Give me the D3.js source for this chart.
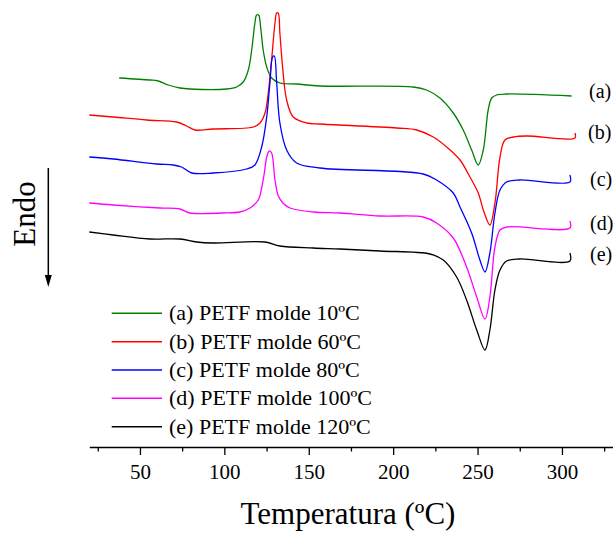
<!DOCTYPE html>
<html><head><meta charset="utf-8">
<script src="https://cdn.jsdelivr.net/npm/d3@7"></script>
<style>
body{margin:0;background:#fff}
svg{display:block}
text{font-family:"Liberation Serif","Times New Roman",serif;fill:#000}
</style></head><body>
<script>
// ---- data ----
const tempA=[37.7,55.9,60.8,66.8,73.7,79.6,101.4,107.3,111.2,114.2,116.2,118.1,119.1,120.3,121.5,123.0,125.1,128.0,132.9,142.8,156.6,211.9,219.8,227.7,235.6,241.5,246.5,250.4,253.4,256.3,258.4,261.3,267.2,305.7];
const flowA=[36.9,36.7,36.6,36.2,35.9,35.8,35.8,36.0,36.5,37.7,39.7,42.4,43.2,43.2,42.0,39.7,38.0,36.9,36.4,36.3,36.1,36.0,35.7,34.9,33.4,31.7,29.7,28.2,29.7,33.7,34.9,35.2,35.3,35.1];
const tempB=[20.0,34.2,54.0,71.7,77.7,82.6,93.4,117.1,121.1,124.1,126.0,128.0,130.0,131.0,131.9,132.9,134.5,136.9,140.8,148.8,156.6,202.1,213.9,223.8,231.7,239.6,245.5,250.4,253.8,257.3,260.3,263.3,266.2,271.2,279.1,307.7,307.7];
const flowB=[33.2,33.0,32.7,32.5,32.1,31.7,31.8,32.0,32.4,33.4,35.4,38.7,42.4,43.4,43.4,41.4,38.0,34.7,33.0,32.4,32.3,31.9,31.7,31.0,30.0,28.7,27.0,25.4,23.5,22.2,24.4,29.0,30.7,31.0,31.1,30.9,31.4];
const tempC=[20.0,34.2,59.9,69.7,74.7,80.6,93.4,113.2,118.1,122.1,125.1,127.0,128.6,129.6,131.0,132.9,136.9,142.8,156.6,217.8,225.7,235.6,239.6,246.5,251.4,254.4,257.3,260.3,263.3,267.2,275.1,304.7,304.7];
const flowC=[29.0,28.8,28.3,28.2,28.0,27.4,27.4,27.8,28.2,30.0,33.0,36.4,39.0,39.1,36.4,32.4,29.7,28.4,27.9,27.3,26.7,25.4,24.0,21.4,18.7,17.5,19.4,23.4,25.7,26.5,26.7,26.5,27.2];
const tempD=[20.0,34.2,61.8,73.7,79.6,99.3,109.2,115.2,120.1,122.1,123.5,125.1,126.6,128.0,130.0,132.0,134.7,138.9,152.7,168.5,192.2,217.8,225.7,235.6,243.5,249.5,254.4,257.3,260.3,263.3,267.2,304.7,304.7];
const flowD=[24.4,24.2,23.9,23.8,23.4,23.4,23.5,23.9,24.7,25.9,27.2,29.0,29.6,29.4,26.7,25.1,24.4,23.9,23.5,23.4,23.1,23.0,22.4,20.9,18.0,15.0,12.8,15.0,20.0,21.7,22.0,21.9,22.6];
const tempE=[20.0,34.2,55.9,73.7,83.6,93.4,124.1,132.9,152.7,168.5,192.2,221.8,229.7,237.6,243.5,249.5,254.4,257.3,260.3,263.3,267.2,275.1,304.7,304.7];
const flowE=[21.5,21.2,20.8,20.8,20.5,20.4,20.5,20.1,19.9,19.8,19.6,19.3,18.7,17.0,14.7,11.7,9.7,11.7,15.7,17.7,18.6,18.8,18.6,19.4];

const seriesKeys=["(a)","(b)","(c)","(d)","(e)"];
const legendLabels=["(a) PETF molde 10ºC","(b) PETF molde 60ºC","(c) PETF molde 80ºC","(d) PETF molde 100ºC","(e) PETF molde 120ºC"];
const colors=["#008000","#ff0000","#0000ff","#ff00ff","#000000"];
const majorTicks=[50,100,150,200,250,300];
const minorTicks=[25,75,125,175,225,275,325];

const temps=[tempA,tempB,tempC,tempD,tempE];
const flows=[flowA,flowB,flowC,flowD,flowE];

// ---- layout ----
const W=613,H=536;
const svg=d3.select("body").append("svg").attr("width",W).attr("height",H);
const x=d3.scaleLinear().domain([20,330]).range([89.3,612.6]);
const y=d3.scaleLinear().domain([0,44.7]).range([447,0]);

const line=d3.line().x(d=>x(d[0])).y(d=>y(d[1])).curve(d3.curveCatmullRom.alpha(0.5));

temps.forEach((t,i)=>{
  const pts=t.map((v,j)=>[v,flows[i][j]]);
  svg.append("path").datum(pts).attr("d",line)
    .attr("fill","none").attr("stroke",colors[i]).attr("stroke-width",1.3)
    .attr("stroke-linejoin","round");
});

// right-side labels
const labelBase=[98,139,186,230,261];
const labelX=[589,588,590,590,590];
seriesKeys.forEach((k,i)=>{
  svg.append("text").attr("x",labelX[i]).attr("y",labelBase[i])
    .style("font-size","20px").text(k);
});

// x axis
const gMinor=svg.append("g").attr("transform","translate(0,447)")
  .call(d3.axisBottom(x).tickValues(minorTicks).tickSize(4.5).tickFormat(""));
gMinor.select(".domain").remove();
gMinor.selectAll("line").attr("stroke-width",1.3);
const gMajor=svg.append("g").attr("transform","translate(0,447)")
  .call(d3.axisBottom(x).tickValues(majorTicks).tickSize(8).tickSizeOuter(0).tickPadding(9));
gMajor.select(".domain").attr("stroke-width",1.5);
gMajor.selectAll("line").attr("stroke-width",1.3);
gMajor.selectAll("text").style("font-family",'"Liberation Serif","Times New Roman",serif').style("font-size","21px");

// axis title
svg.append("text").attr("x",348).attr("y",524).attr("text-anchor","middle")
  .style("font-size","31px").text("Temperatura (ºC)");

// Endo label + arrow
svg.append("text").attr("transform","translate(35,214) rotate(-90)")
  .attr("text-anchor","middle").style("font-size","31px").text("Endo");
svg.append("line").attr("x1",48.3).attr("x2",48.3).attr("y1",168).attr("y2",278)
  .attr("stroke","#000").attr("stroke-width",1.5);
svg.append("path").attr("d","M44.8,275 L51.8,275 L48.3,287 Z").attr("fill","#000");

// legend
const legRows=[313.3,341.7,370,398.3,426.7];
legendLabels.forEach((lab,i)=>{
  svg.append("line").attr("x1",111.7).attr("x2",162).attr("y1",legRows[i]).attr("y2",legRows[i])
    .attr("stroke",colors[i]).attr("stroke-width",1.5);
  svg.append("text").attr("x",169).attr("y",legRows[i]+7).style("font-size","22px").text(lab);
});
</script>
</body></html>
